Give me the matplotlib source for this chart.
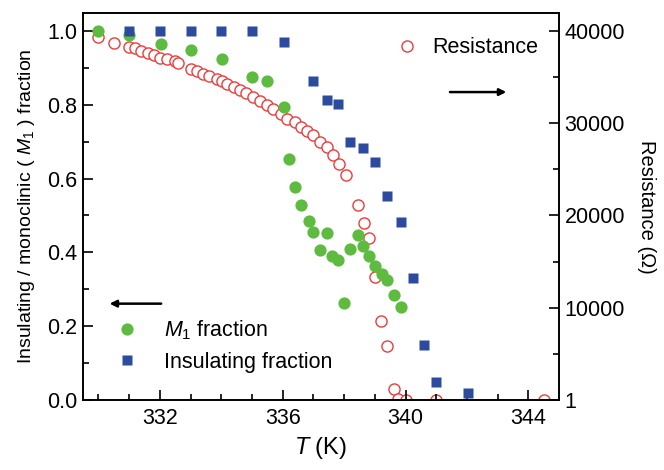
import matplotlib
matplotlib.use("Agg")
from matplotlib import pyplot as plt
from matplotlib.ticker import MultipleLocator, FixedLocator, FixedFormatter

plt.rcParams["font.family"] = ["Liberation Sans", "DejaVu Sans"]
plt.rcParams["mathtext.fontset"] = "custom"
plt.rcParams["mathtext.rm"] = "Liberation Sans"
plt.rcParams["mathtext.it"] = "Liberation Sans:italic"

# M1 fraction (green)
m1_temp = [330.0, 331.0, 332.05, 333.03, 334.04, 335.0, 335.5, 336.05, 336.2, 336.4,
           336.6, 336.85, 337.0, 337.43, 337.2, 337.6, 337.8, 338.0, 338.2, 338.44,
           338.6, 338.8, 339.0, 339.25, 339.4, 339.64, 339.84]
m1_frac = [1.0, 0.99, 0.965, 0.948, 0.924, 0.875, 0.864, 0.793, 0.652, 0.576,
           0.527, 0.485, 0.455, 0.453, 0.407, 0.391, 0.38, 0.264, 0.41, 0.448,
           0.416, 0.391, 0.364, 0.34, 0.325, 0.285, 0.253]

# insulating fraction (blue)
ins_temp = [331.0, 332.0, 333.0, 334.0, 335.0, 336.05, 337.0, 337.43, 337.8, 338.2,
            338.6, 339.0, 339.4, 339.84, 340.26, 340.6, 341.0, 342.05]
ins_frac = [1.0, 1.0, 1.0, 1.0, 1.0, 0.97, 0.864, 0.813, 0.802, 0.70,
            0.682, 0.644, 0.552, 0.481, 0.33, 0.149, 0.05, 0.02]

# resistance (red, ohm)
res_temp = [330.0, 330.5, 331.0, 331.2, 331.4, 331.6, 331.8, 332.0, 332.25, 332.5,
            332.6, 333.0, 333.2, 333.4, 333.6, 333.85, 334.04, 334.2, 334.4, 334.6,
            334.8, 335.05, 335.25, 335.5, 335.7, 335.95, 336.15, 336.4, 336.6, 336.8,
            337.0, 337.2, 337.45, 337.65, 337.85, 338.05, 338.44, 338.64, 338.8, 339.0,
            339.2, 339.4, 339.64, 339.77, 340.0, 341.0, 344.5]
res_ohm = [39300, 38650, 38200, 38150, 37850, 37600, 37350, 37100, 36950, 36700,
           36500, 35900, 35600, 35300, 35100, 34800, 34550, 34250, 33900, 33600,
           33300, 32800, 32400, 32000, 31500, 30950, 30500, 30100, 29600, 29100,
           28700, 28000, 27400, 26550, 25600, 24400, 21100, 19200, 17500, 13300,
           8600, 5900, 1200, 120, 0, 0, 0]

green = "#5dbb3f"
blue = "#2d4b9e"
red = "#ee3b3b"

fig = plt.figure(figsize=(6.64, 4.70), dpi=100)
ax = fig.add_axes([0.125, 0.149, 0.717, 0.823])
ax2 = ax.twinx()

ax.plot(m1_temp, m1_frac, "o", color=green, ms=8.8, mec="none", label="$M_1$ fraction")
ax.plot(ins_temp, ins_frac, "s", color=blue, ms=7.2, mec="none", label="Insulating fraction")
ax2.plot(res_temp, res_ohm, "o", mfc="white", mec=red, ms=8.0, mew=1.0, label="Resistance")
ax.set_zorder(2)
ax.patch.set_visible(False)

ax.set_xlim(329.5, 345)
ax.set_ylim(0, 1.048)
ax2.set_ylim(0, 1.048 * 40000)

ax.xaxis.set_major_locator(FixedLocator([332, 336, 340, 344]))
ax.xaxis.set_minor_locator(MultipleLocator(1))
ax.yaxis.set_major_locator(FixedLocator([0, 0.2, 0.4, 0.6, 0.8, 1.0]))
ax.yaxis.set_minor_locator(MultipleLocator(0.1))
ax.yaxis.set_major_formatter(FixedFormatter(["0.0", "0.2", "0.4", "0.6", "0.8", "1.0"]))
ax2.yaxis.set_major_locator(FixedLocator([0, 10000, 20000, 30000, 40000]))
ax2.yaxis.set_major_formatter(FixedFormatter(["1", "10000", "20000", "30000", "40000"]))
ax2.yaxis.set_minor_locator(MultipleLocator(5000))

for a in (ax, ax2):
    a.tick_params(which="both", direction="in", labelsize=15.5, width=1.2)
    a.tick_params(which="major", length=7)
    a.tick_params(which="minor", length=4)
    for s in a.spines.values():
        s.set_linewidth(1.2)
ax.tick_params(axis="x", pad=6)
ax.tick_params(axis="y", pad=4)
ax2.tick_params(axis="y", pad=4)

ax.set_xlabel("$T$ (K)", fontsize=17, labelpad=4)
ax.set_ylabel("Insulating / monoclinic ( $M_1$ ) fraction", fontsize=14, labelpad=7)
ax2.set_ylabel("Resistance (\u03a9)", fontsize=14.5, rotation=270, labelpad=22)

leg = ax.legend(loc="upper left", bbox_to_anchor=(0.047, 0.238), frameon=False,
                fontsize=15.5, handletextpad=1.2, labelspacing=0.45,
                handlelength=1.0, borderpad=0)
leg2 = ax2.legend(loc="upper left", bbox_to_anchor=(0.635, 0.965), frameon=False,
                  fontsize=15.5, handletextpad=0.7, handlelength=1.0, borderpad=0)

ax.annotate("", xy=(0.05, 0.249), xytext=(0.17, 0.249), xycoords="axes fraction",
            arrowprops=dict(arrowstyle="-|>", color="black", lw=1.8, mutation_scale=10))
ax.annotate("", xy=(0.895, 0.796), xytext=(0.765, 0.796), xycoords="axes fraction",
            arrowprops=dict(arrowstyle="-|>", color="black", lw=1.8, mutation_scale=10))

plt.savefig("out.png", dpi=100)
